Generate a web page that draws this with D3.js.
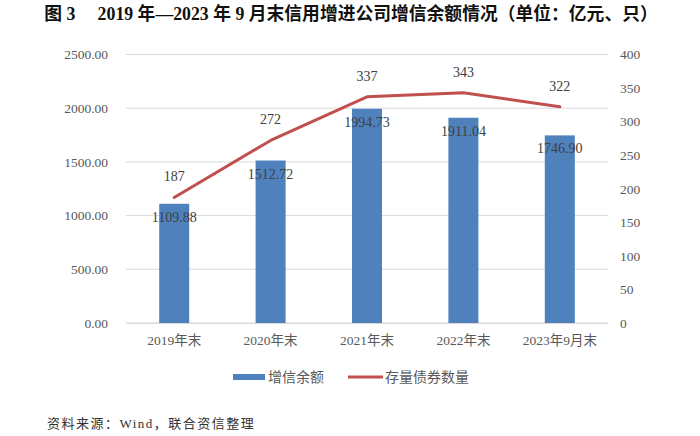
<!DOCTYPE html>
<html>
<head>
<meta charset="utf-8">
<script src="https://cdn.jsdelivr.net/npm/d3@7"></script>
<style>
  body { margin: 0; background: white; }
  svg text { font-family: "Liberation Serif", "Noto Sans CJK SC", serif; }
</style>
</head>
<body>
<svg id="chart" width="700" height="436"></svg>
<script>
const categories = ["2019年末", "2020年末", "2021年末", "2022年末", "2023年9月末"];
const balance = [1109.88, 1512.72, 1994.73, 1911.04, 1746.90];
const bondCount = [187, 272, 337, 343, 322];
const leftTicks = [0, 500, 1000, 1500, 2000, 2500];
const rightTicks = [0, 50, 100, 150, 200, 250, 300, 350, 400];

const svg = d3.select("#chart");
const margin = { top: 54.5, right: 92, bottom: 113, left: 126 };
const width = 700 - margin.left - margin.right;
const height = 436 - margin.top - margin.bottom;

const chartArea = svg.append("g")
    .attr("transform", `translate(${margin.left},${margin.top})`);

const xScale = d3.scaleBand().domain(categories).range([0, width]);
const yLeft = d3.scaleLinear().domain([0, 2500]).range([height, 0]);
const yRight = d3.scaleLinear().domain([0, 400]).range([height, 0]);

// title
svg.append("text")
    .attr("x", 351).attr("y", 20)
    .attr("text-anchor", "middle")
    .attr("font-size", 17.8)
    .attr("font-weight", "bold")
    .attr("fill", "#111")
    .text("图 3\u2003 2019 年\u20142023 年 9 月末信用增进公司增信余额情况（单位：亿元、只）");

// gridlines
chartArea.selectAll("line.grid")
    .data(leftTicks)
    .join("line")
    .attr("class", "grid")
    .attr("x1", 0).attr("x2", width)
    .attr("y1", d => yLeft(d)).attr("y2", d => yLeft(d))
    .attr("stroke", "#d9d9d9")
    .attr("stroke-width", 1);

// left axis
const leftAxis = chartArea.append("g")
    .call(d3.axisLeft(yLeft).tickValues(leftTicks).tickFormat(d3.format(".2f")).tickSize(0).tickPadding(18));
leftAxis.select(".domain").remove();
leftAxis.selectAll("text").attr("font-size", 13.5).attr("fill", "#595959")
    .attr("font-family", "Liberation Serif, serif");

// right axis
const rightAxis = chartArea.append("g")
    .attr("transform", `translate(${width},0)`)
    .call(d3.axisRight(yRight).tickValues(rightTicks).tickSize(0).tickPadding(12));
rightAxis.select(".domain").remove();
rightAxis.selectAll("text").attr("font-size", 13.5).attr("fill", "#595959")
    .attr("font-family", "Liberation Serif, serif");

// x axis
const xAxis = chartArea.append("g")
    .attr("transform", `translate(0,${height})`)
    .call(d3.axisBottom(xScale).tickSize(0).tickPadding(12));
xAxis.select(".domain").attr("stroke", "#d9d9d9");
xAxis.selectAll("text").attr("font-size", 13.5).attr("fill", "#595959")
    .attr("font-family", "Liberation Serif, Noto Sans CJK SC, serif");

// bars
const barWidth = 30;
chartArea.selectAll("rect.bar")
    .data(balance)
    .join("rect")
    .attr("class", "bar")
    .attr("x", (d, i) => xScale(categories[i]) + xScale.bandwidth() / 2 - barWidth / 2)
    .attr("y", d => yLeft(d))
    .attr("width", barWidth)
    .attr("height", d => height - yLeft(d))
    .attr("fill", "#4f81bd");

chartArea.selectAll("text.barLabel")
    .data(balance)
    .join("text")
    .attr("class", "barLabel")
    .attr("x", (d, i) => xScale(categories[i]) + xScale.bandwidth() / 2)
    .attr("y", d => yLeft(d) + 18)
    .attr("text-anchor", "middle")
    .attr("font-size", 14)
    .attr("fill", "#404040")
    .text(d => d3.format(".2f")(d));

// line
const line = d3.line()
    .x((d, i) => xScale(categories[i]) + xScale.bandwidth() / 2)
    .y(d => yRight(d));

chartArea.append("path")
    .datum(bondCount)
    .attr("d", line)
    .attr("fill", "none")
    .attr("stroke", "#c0504d")
    .attr("stroke-width", 3)
    .attr("stroke-linejoin", "round")
    .attr("stroke-linecap", "round");

chartArea.selectAll("text.lineLabel")
    .data(bondCount)
    .join("text")
    .attr("class", "lineLabel")
    .attr("x", (d, i) => xScale(categories[i]) + xScale.bandwidth() / 2)
    .attr("y", d => yRight(d) - 16)
    .attr("text-anchor", "middle")
    .attr("font-size", 14)
    .attr("fill", "#404040")
    .text(d => d);

// legend
const legend = svg.append("g").attr("transform", "translate(0,377)");
legend.append("rect")
    .attr("x", 233).attr("y", -3).attr("width", 32).attr("height", 6)
    .attr("fill", "#4f81bd");
legend.append("text")
    .attr("x", 268).attr("y", 5)
    .attr("font-size", 14).attr("fill", "#595959")
    .text("增信余额");
legend.append("line")
    .attr("x1", 348).attr("x2", 383).attr("y1", 0).attr("y2", 0)
    .attr("stroke", "#c0504d").attr("stroke-width", 3);
legend.append("text")
    .attr("x", 385).attr("y", 5)
    .attr("font-size", 14).attr("fill", "#595959")
    .text("存量债券数量");

// source
svg.append("text")
    .attr("x", 47).attr("y", 428)
    .attr("font-size", 13)
    .attr("fill", "#333")
    .attr("letter-spacing", 1.5)
    .text("资料来源：Wind，联合资信整理");
</script>
</body>
</html>
